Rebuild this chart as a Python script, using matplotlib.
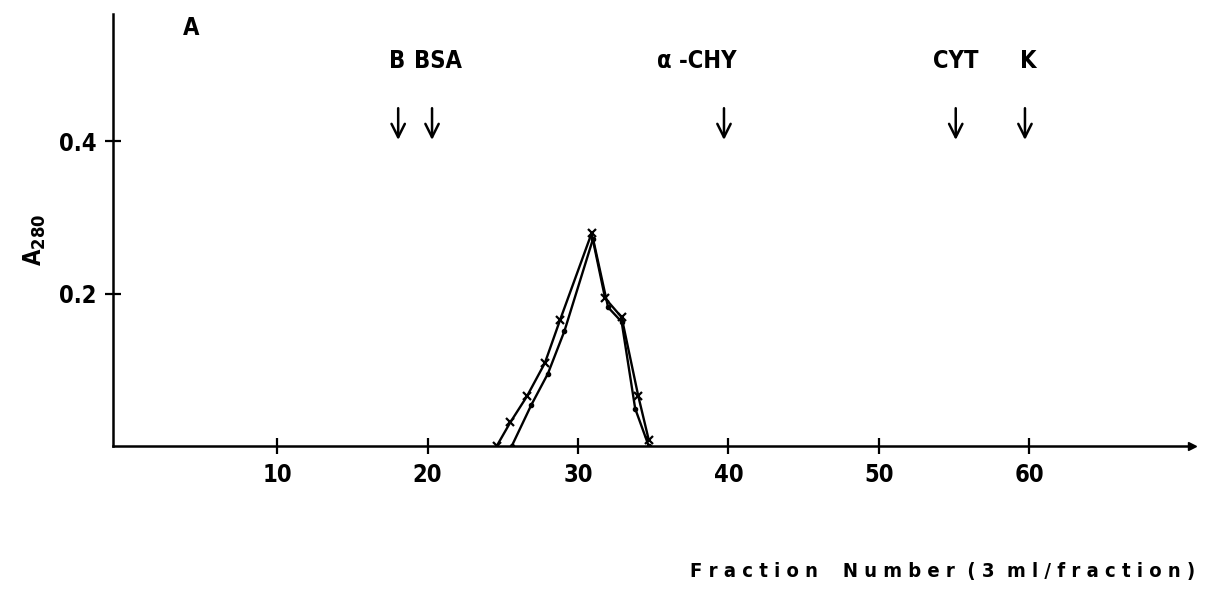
import matplotlib.pyplot as plt

# Elution profile, two runs (fraction number vs A280)
run1_fraction = [24.6, 25.5, 26.6, 27.8, 28.8, 30.9, 31.8, 32.9, 34.0, 34.7]
run1_a280 = [0.0, 0.031, 0.065, 0.109, 0.165, 0.279, 0.194, 0.169, 0.066, 0.008]

run2_fraction = [25.6, 26.9, 28.0, 29.1, 31.0, 32.0, 32.9, 33.8, 34.7]
run2_a280 = [0.0, 0.054, 0.095, 0.151, 0.272, 0.182, 0.163, 0.049, 0.0]

# Calibration markers (elution positions of standards)
marker_names = ['B', 'BSA', 'α -CHY', 'CYT', 'K']
marker_fraction = [18.05, 20.3, 39.7, 55.1, 59.7]
label_fraction = [18.0, 20.7, 37.9, 55.1, 59.9]

x_ticks = [10, 20, 30, 40, 50, 60]
y_ticks = [0.2, 0.4]

font = {'family': ['DejaVu Sans'], 'weight': 'bold', 'stretch': 'condensed'}

W, H = 1214, 591
fig = plt.figure(figsize=(W / 100, H / 100), dpi=100)
ax = fig.add_axes([113 / W, (H - 446) / H, (1192 - 113) / W, (446 - 14) / H])

ax.set_xlim(-0.9, 70.8)
ax.set_ylim(0, 0.567)

ax.plot(run1_fraction, run1_a280, color='black', lw=1.7,
        marker='x', ms=6, mew=1.6)
ax.plot(run2_fraction, run2_a280, color='black', lw=1.7,
        marker='.', ms=6)

for name, xm, xl in zip(marker_names, marker_fraction, label_fraction):
    ax.annotate('', xy=(xm, 0.398), xytext=(xm, 0.447),
                arrowprops=dict(arrowstyle='->', color='black', lw=1.8,
                                mutation_scale=24))
    ax.text(xl, 0.505, name, ha='center', va='center', fontsize=17, **font)

ax.text(4.3, 0.548, 'A', ha='center', va='center', fontsize=17, **font)

for side in ['top', 'right']:
    ax.spines[side].set_visible(False)
for side in ['left', 'bottom']:
    ax.spines[side].set_linewidth(1.8)

# arrowhead at the end of the fraction axis
ax.plot(1, 0, '>', color='black', ms=6, transform=ax.transAxes, clip_on=False)

ax.set_xticks(x_ticks)
ax.set_yticks(y_ticks)
ax.set_xticklabels([str(t) for t in x_ticks], fontsize=17, **font)
ax.set_yticklabels(['0.2', '0.4'], fontsize=17, **font)
ax.tick_params(direction='inout', length=12, width=1.6, pad=6)
ax.tick_params(axis='x', pad=6)

fig.text(35 / W, 1 - 240 / H, r'A$_{\mathbf{280}}$', rotation=90, ha='center',
         va='center', fontsize=17, **font)
fig.text(1195 / W, 1 - 572 / H,
         'F r a c t i o n    N u m b e r  ( 3  m l / f r a c t i o n )',
         ha='right', va='center', fontsize=14.5, **font)

fig.savefig('out.png', dpi=100)
